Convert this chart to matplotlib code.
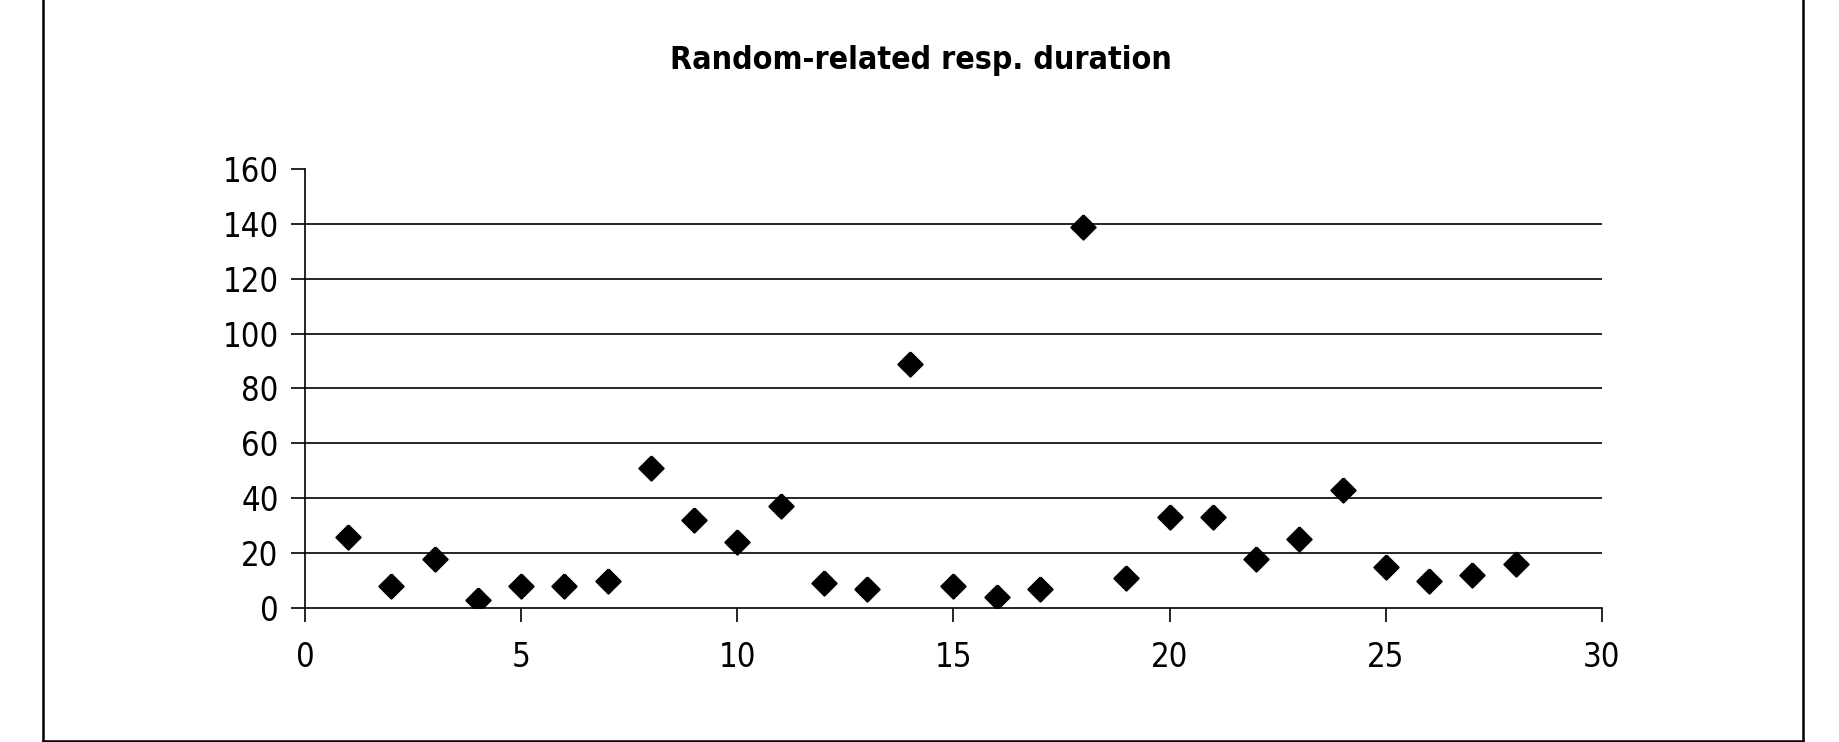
import numpy as np
import matplotlib
matplotlib.use('Agg')
import matplotlib.pyplot as plt
from matplotlib.lines import Line2D
from matplotlib.markers import MarkerStyle

# data
trial = [1, 2, 3, 4, 5, 6, 7, 8, 9, 10, 11, 12, 13, 14,
         15, 16, 17, 18, 19, 20, 21, 22, 23, 24, 25, 26, 27, 28]
duration = [26, 8, 18, 3, 8, 8, 10, 51, 32, 24, 37, 9, 7, 89,
            8, 4, 7, 139, 11, 33, 33, 18, 25, 43, 15, 10, 12, 16]
xticks = [0, 5, 10, 15, 20, 25, 30]
yticks = [0, 20, 40, 60, 80, 100, 120, 140, 160]

W, H = 1840, 742
size = 23.5
plt.rcParams['font.family'] = 'DejaVu Sans'
plt.rcParams['font.stretch'] = 'condensed'

fig = plt.figure(figsize=(W / 100, H / 100), dpi=100)
ax = fig.add_axes([305 / W, 1 - 608 / H, (1602 - 305) / W, (608 - 169) / H])

# horizontal gridlines (not at 0 or at the top)
for yv in yticks[1:-1]:
    ax.axhline(yv, color='black', lw=1.2, zorder=1)

diamond = MarkerStyle([(0, 1), (1, 0), (0, -1), (-1, 0), (0, 1)], joinstyle='round')
ax.plot(trial, duration, ls='none', marker=diamond, ms=17.5, mew=1.5,
        color='black', zorder=3)

ax.set_xlim(0, 30)
ax.set_ylim(0, 160)
ax.set_xticks(xticks)
ax.set_yticks(yticks)
for s in ['top', 'right']:
    ax.spines[s].set_visible(False)
for s in ['left', 'bottom']:
    ax.spines[s].set_linewidth(1.2)
ax.tick_params(axis='y', length=10, width=1.2, pad=9, labelsize=size)
ax.tick_params(axis='x', length=10, width=1.2, pad=14, labelsize=size)

fig.text(921 / W, 1 - 61 / H, 'Random-related resp. duration',
         ha='center', va='center', fontsize=23, fontweight='bold')

# outer frame (top edge lies outside the image)
xl, xr, yb = 43.5 / W, 1803 / W, 1 - 740.5 / H
for xs, ys in [([xl, xl], [yb, 1.01]), ([xr, xr], [yb, 1.01]), ([xl, xr], [yb, yb])]:
    fig.add_artist(Line2D(xs, ys, color='black', lw=1.8, solid_capstyle='projecting'))

fig.savefig('out.png', dpi=100)
